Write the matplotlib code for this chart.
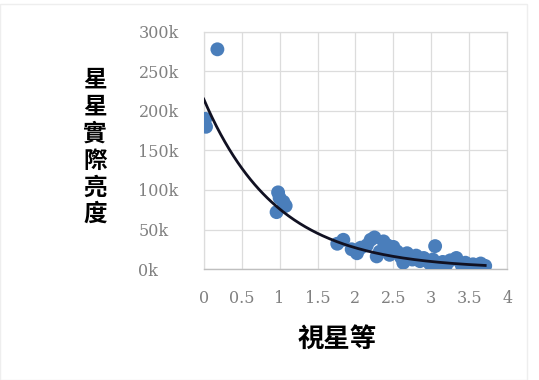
import numpy as np
import matplotlib
matplotlib.use("Agg")
import matplotlib.pyplot as plt
from matplotlib.ticker import FuncFormatter
from matplotlib.patches import Rectangle

magnitude = [0.02, 0.03, 0.18, 0.96, 0.98, 1.00, 1.05, 1.08,
             1.76, 1.84, 1.95, 2.02, 2.07, 2.15, 2.20, 2.25, 2.28, 2.32,
             2.37, 2.42, 2.45, 2.50, 2.55, 2.60, 2.63, 2.68, 2.75, 2.80,
             2.85, 2.90, 2.98, 3.02, 3.05, 3.10, 3.15, 3.20, 3.25, 3.33,
             3.40, 3.45, 3.50, 3.55, 3.65, 3.71]
luminosity = [190000, 180000, 278000, 72000, 97000, 90000, 85000, 80000,
              32000, 37000, 25000, 20000, 27000, 30000, 37000, 40000, 16000, 22000,
              35000, 30000, 18000, 28000, 22000, 15000, 8000, 20000, 12000, 17000,
              10000, 14000, 7000, 12000, 29000, 5000, 9000, 6000, 11000, 14000,
              5000, 8000, 4000, 6000, 7000, 4000]

# exponential trendline y = a * exp(b * x), coefficients
trend_a = 215000
trend_b = -1.04

x_ticks = [0, 0.5, 1, 1.5, 2, 2.5, 3, 3.5, 4]
x_tick_labels = ["0", "0.5", "1", "1.5", "2", "2.5", "3", "3.5", "4"]
y_ticks = [0, 50000, 100000, 150000, 200000, 250000, 300000]

x = np.array(magnitude)
y = np.array(luminosity)

fig = plt.figure(figsize=(5.39, 3.80), dpi=100)
ax = fig.add_axes([0.378, 0.292, 0.563, 0.624])

xt = np.linspace(0.0, x.max(), 200)
ax.scatter(x, y, s=100, color="#4a7ebb", edgecolors="none", zorder=3)
ax.plot(xt, trend_a * np.exp(trend_b * xt), color="#111122", lw=2.0, zorder=4)

ax.set_xlim(0, 4)
ax.set_ylim(0, 300000)
ax.set_xticks(x_ticks)
ax.set_xticklabels(x_tick_labels)
ax.set_yticks(y_ticks)
ax.yaxis.set_major_formatter(FuncFormatter(lambda v, p: f"{v/1000:.0f}k"))

ax.grid(True, color="#dcdcdc", lw=0.9)
ax.set_axisbelow(True)
for s in ["top", "right", "left"]:
    ax.spines[s].set_color("#dcdcdc")
    ax.spines[s].set_linewidth(0.9)
ax.spines["bottom"].set_color("#bfbfbf")
ax.spines["bottom"].set_linewidth(1.0)
ax.tick_params(length=0, colors="#808080", labelsize=11.5)
ax.tick_params(axis="x", pad=15)
ax.tick_params(axis="y", pad=47)
for lab in ax.get_xticklabels() + ax.get_yticklabels():
    lab.set_family("DejaVu Serif")
for lab in ax.get_yticklabels():
    lab.set_ha("left")

cjk = ["Noto Sans CJK TC", "DejaVu Sans"]
fig.text(0.176, 0.613, "\n".join("星星實際亮度"), ha="center", va="center",
         fontsize=17, fontweight="bold", family=cjk, linespacing=1.15)
fig.text(0.625, 0.108, "視星等", ha="center", va="center",
         fontsize=19, fontweight="bold", family=cjk)

fig.patches.append(Rectangle((0.0, 0.0), 0.978, 0.99, transform=fig.transFigure,
                             fill=False, edgecolor="#eeeeee", lw=1.0))

fig.savefig("out.png", dpi=100, facecolor="white")
